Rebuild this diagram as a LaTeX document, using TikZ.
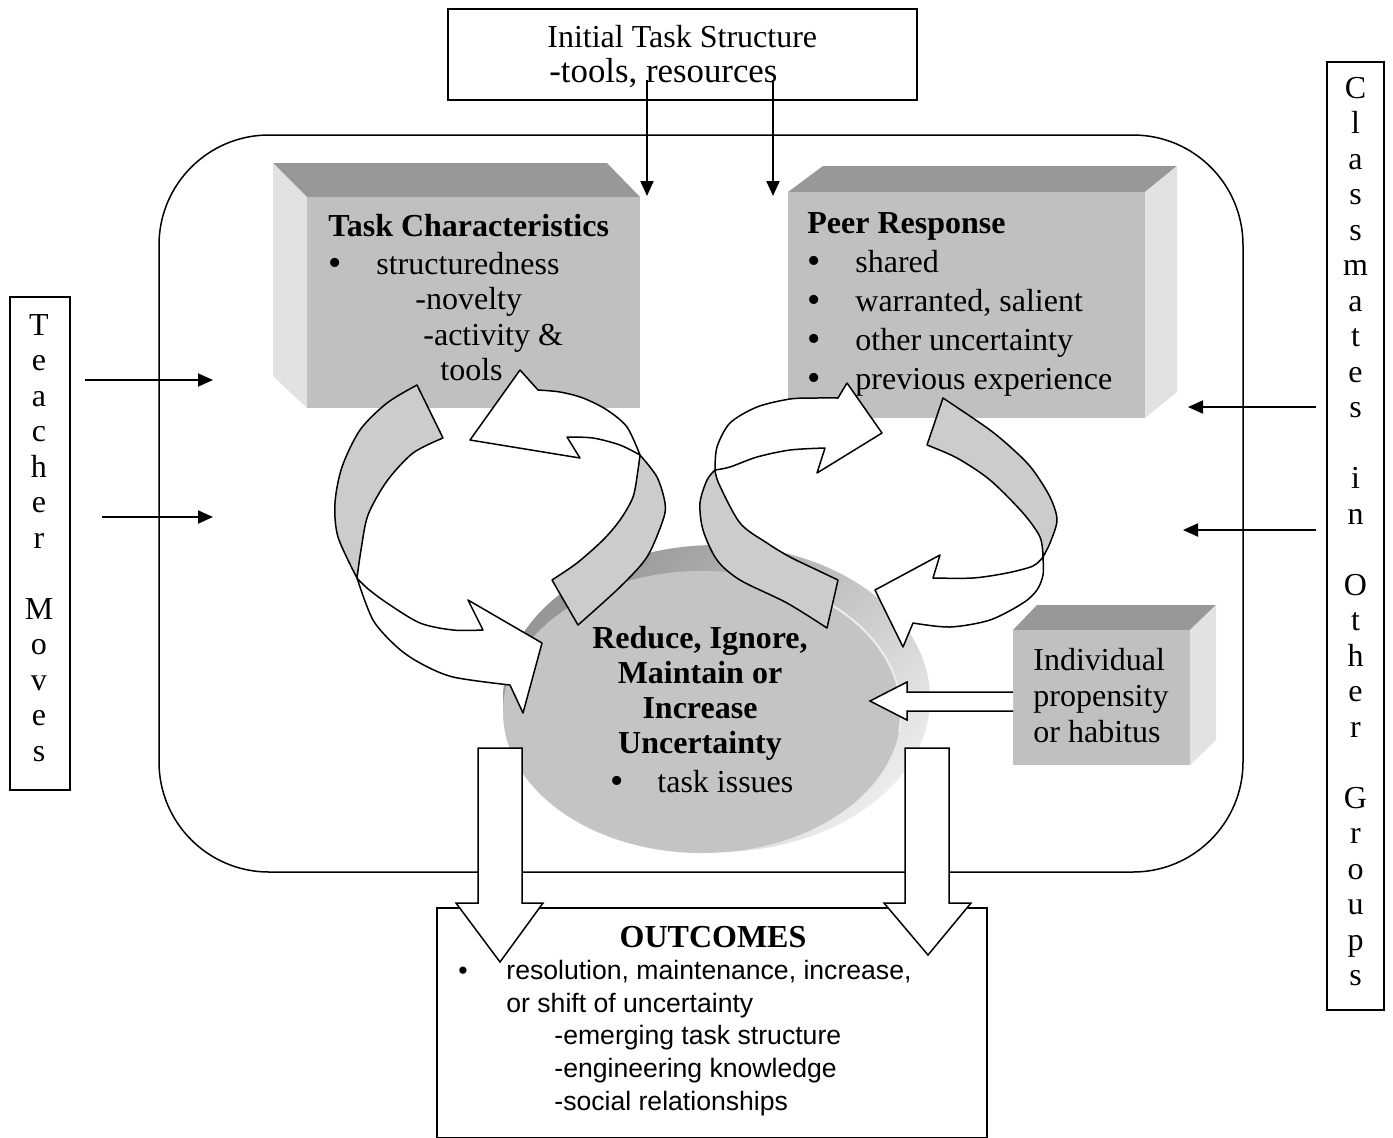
\documentclass[tikz,border=0pt]{standalone}
\usepackage{fontspec}
\setmainfont{Liberation Serif}
\setsansfont{Liberation Sans}
\usetikzlibrary{arrows.meta,shapes.geometric}
\definecolor{faceg}{RGB}{192,192,192}
\definecolor{topg}{RGB}{152,152,152}
\definecolor{sideg}{RGB}{226,226,226}
\definecolor{ribg}{RGB}{204,204,204}
\definecolor{diskface}{RGB}{196,196,196}
\definecolor{rimdark}{RGB}{150,150,150}
\definecolor{rimlight}{RGB}{236,236,236}
\newcommand{\bigbul}{{\fontsize{19}{18}\selectfont\textbullet}}
\begin{document}
\begin{tikzpicture}[x=0.5pt,y=-0.5pt,
 txt/.style={font=\fontsize{16}{18}\selectfont, inner sep=0pt, anchor=base west},
 btxt/.style={inner sep=0pt, anchor=base west, font=\fontsize{16}{18}\selectfont\bfseries},
 ctxt/.style={inner sep=0pt, anchor=base, font=\fontsize{16}{18}\selectfont\bfseries},
 stxt/.style={inner sep=0pt, anchor=base west, font=\fontsize{13.3}{16}\selectfont\sffamily},
 rib/.style={draw=black, line width=0.75pt, line join=round},
 blk/.style={draw=black, line width=0.75pt, fill=white, line join=miter},
 frame/.style={draw=black, line width=0.75pt, fill=white, inner sep=0pt},
 arr/.style={line width=1pt, -{Triangle[length=7.5pt,width=6.5pt]}},
 letter/.style={inner sep=0pt, anchor=base, font=\fontsize{16}{18}\selectfont}
]
\useasboundingbox (0,0) rectangle (1393,1137);
\fill[white] (0,0) rectangle (1393,1137);

% big rounded frame
\draw[line width=0.75pt, rounded corners=55pt] (159,135) rectangle (1243,872);

% Initial task structure box
\node[frame, minimum width=234.5pt, minimum height=45.5pt] (its) at (682.5,54.5) {};
\node[txt] (its1) at (547,47) {Initial Task Structure};
\node[txt, font=\fontsize{17.4}{18}\selectfont] (its2) at (549,82) {-tools, resources};
\coordinate (a1s) at (647,80); \coordinate (a1e) at (647,196);
\coordinate (a2s) at (773,80); \coordinate (a2e) at (773,196);
\draw[arr] (a1s) -- (a1e);
\draw[arr] (a2s) -- (a2e);

% Teacher Moves box
\node[frame, minimum width=30pt, minimum height=246.5pt] (tmbox) at (40,543.5) {};
\foreach \l/\k in {T/0,e/1,a/2,c/3,h/4,e/5,r/6,M/8,o/9,v/10,e/11,s/12}
  \node[letter] (tm\k) at (39,{335+\k*35.5}) {\l};
\coordinate (t1s) at (85,380); \coordinate (t1e) at (213,380);
\coordinate (t2s) at (102,517); \coordinate (t2e) at (213,517);
\draw[arr] (t1s) -- (t1e);
\draw[arr] (t2s) -- (t2e);

% Classmates box
\node[frame, minimum width=28.5pt, minimum height=474pt] (cgbox) at (1355.5,536) {};
\foreach \l/\k in {C/0,l/1,a/2,s/3,s/4,m/5,a/6,t/7,e/8,s/9,i/11,n/12,O/14,t/15,h/16,e/17,r/18,G/20,r/21,o/22,u/23,p/24,s/25}
  \node[letter] (cg\k) at (1355.5,{98+\k*35.5}) {\l};
\coordinate (c1s) at (1316,407); \coordinate (c1e) at (1188,407);
\coordinate (c2s) at (1316,530); \coordinate (c2e) at (1183,530);
\draw[arr] (c1s) -- (c1e);
\draw[arr] (c2s) -- (c2e);

% Task characteristics 3D box
\fill[topg] (273,163) -- (607,163) -- (640,197) -- (307,197) -- cycle;
\fill[sideg] (273,163) -- (307,197) -- (307,408) -- (273,376) -- cycle;
\fill[faceg] (307,197) rectangle (640,408);

% Peer response 3D box
\fill[topg] (823,166) -- (1177,166) -- (1145,192) -- (788,192) -- cycle;
\fill[sideg] (1145,192) -- (1177,166) -- (1177,392) -- (1145,418) -- cycle;
\fill[faceg] (788,192) rectangle (1145,418);

% Individual 3D box
\fill[topg] (1037,605) -- (1216,605) -- (1190,630) -- (1013,630) -- cycle;
\fill[sideg] (1190,630) -- (1216,605) -- (1216,740) -- (1190,765) -- cycle;
\fill[faceg] (1013,630) rectangle (1190,765);

% disk
\shade[top color=rimdark, bottom color=rimlight, shading angle=45] (716.5,698.5) ellipse [x radius=213.5, y radius=153.5];
\fill[diskface] (702,712) ellipse [x radius=199, y radius=141];
\draw[rimlight, line width=1pt] ({702+199*cos(-58)},{712+141*sin(-58)}) arc[start angle=-58, end angle=8, x radius=199, y radius=141];

% left cycle
\filldraw[rib, fill=ribg] plot[smooth] coordinates {(417,385) (387,403) (360,430) (342,467) (335,503) (338,537) (357,578)}
  -- plot[smooth] coordinates {(357,578) (361,550) (368,515) (387,481) (413,453) (443,438)} -- cycle;
\filldraw[rib, fill=white] plot[smooth] coordinates {(357,578) (373,620) (397,647) (420,663) (453,677) (510,685)}
  -- (523,713) -- (542,643) -- (468,600)
  -- plot[smooth] coordinates {(483,630) (453,630) (420,623) (387,603) (367,588) (357,578)} -- cycle;
\filldraw[rib, fill=ribg] plot[smooth] coordinates {(578,625) (620,587) (647,557) (663,520) (665,503) (657,477) (640,455)}
  -- plot[smooth] coordinates {(640,455) (638,470) (633,497) (620,520) (603,540) (577,563) (552,580)} -- cycle;
\filldraw[rib, fill=white] plot[smooth] coordinates {(640,455) (627,427) (607,410) (583,398) (560,392) (538,390)}
  -- (520,370) -- (470,440) -- (580,458)
  -- plot[smooth] coordinates {(567,437) (593,438) (620,445) (640,455)} -- cycle;

% right cycle
\filldraw[rib, fill=ribg] plot[smooth] coordinates {(827,628) (787,603) (740,580) (717,560) (703,530) (700,503) (707,480) (715,470)}
  -- plot[smooth] coordinates {(715,470) (719,484) (740,523) (767,543) (790,557) (817,570) (838,580)} -- cycle;
\filldraw[rib, fill=white] plot[smooth] coordinates {(715,470) (717,447) (730,423) (757,407) (790,399) (817,398) (838,398)}
  -- (847,383) -- (882,433) -- (817,473)
  -- plot[smooth] coordinates {(825,448) (790,450) (757,457) (730,467) (715,470)} -- cycle;
\filldraw[rib, fill=ribg] plot[smooth] coordinates {(943,398) (990,430) (1017,453) (1033,470) (1050,497) (1057,520) (1050,543) (1043,557)}
  -- plot[smooth] coordinates {(1043,557) (1040,537) (1023,513) (990,480) (957,458) (927,445)} -- cycle;
\filldraw[rib, fill=white] plot[smooth] coordinates {(1043,557) (1043,575) (1037,590) (1023,603) (990,620) (950,627) (913,623)}
  -- (903,647) -- (875,590) -- (940,555)
  -- plot[smooth] coordinates {(933,578) (973,578) (1007,573) (1033,566) (1043,557)} -- cycle;

% individual -> disk block arrow
\filldraw[blk] (1013,692) -- (907,692) -- (907,682) -- (870,701) -- (907,720) -- (907,711) -- (1013,711);

% outcomes box
\node[frame, minimum width=275pt, minimum height=115pt] (outbox) at (712,1023) {};

% down block arrows
\filldraw[blk] (478,748) -- (522,748) -- (522,903) -- (543,903) -- (500,962) -- (456,903) -- (478,903) -- cycle;
\filldraw[blk] (905,748) -- (949,748) -- (949,903) -- (971,903) -- (928,955) -- (884,903) -- (905,903) -- cycle;

% texts: task characteristics
\node[btxt] (tc0) at (328,236) {Task Characteristics};
\node[txt] (tcb) at (328,275) {\bigbul};
\node[txt] (tc1) at (376,274) {structuredness};
\node[txt] (tc2) at (415,309) {-novelty};
\node[txt] (tc3) at (423,345) {-activity \&};
\node[txt] (tc4) at (440,380) {tools};

% peer response
\node[btxt] (pr0) at (807,233) {Peer Response};
\foreach \t [count=\i] in {shared, {warranted, salient}, other uncertainty, previous experience} {
  \node[txt] (prb\i) at (807,{273+(\i-1)*39}) {\bigbul};
  \node[txt] (pr\i) at (855,{272+(\i-1)*39}) {\t};
}

% disk text
\node[ctxt] (d1) at (700,648) {Reduce, Ignore,};
\node[ctxt] (d2) at (700,683) {Maintain or};
\node[ctxt] (d3) at (700,718) {Increase};
\node[ctxt] (d4) at (700,753) {Uncertainty};
\node[txt] (d5b) at (610,793) {\bigbul};
\node[txt] (d5) at (657,792) {task issues};

% individual
\node[txt] (in1) at (1033,670) {Individual};
\node[txt] (in2) at (1033,706) {propensity};
\node[txt] (in3) at (1033,742) {or habitus};

% outcomes text
\node[ctxt] (o0) at (713,947) {OUTCOMES};
\node[stxt] (ob) at (458,979) {\textbullet};
\node[stxt] (o1) at (506,979) {resolution, maintenance, increase,};
\node[stxt] (o2) at (506,1012) {or shift of uncertainty};
\node[stxt] (o3) at (554,1044) {-emerging task structure};
\node[stxt] (o4) at (554,1077) {-engineering knowledge};
\node[stxt] (o5) at (554,1110) {-social relationships};
\end{tikzpicture}
\end{document}
